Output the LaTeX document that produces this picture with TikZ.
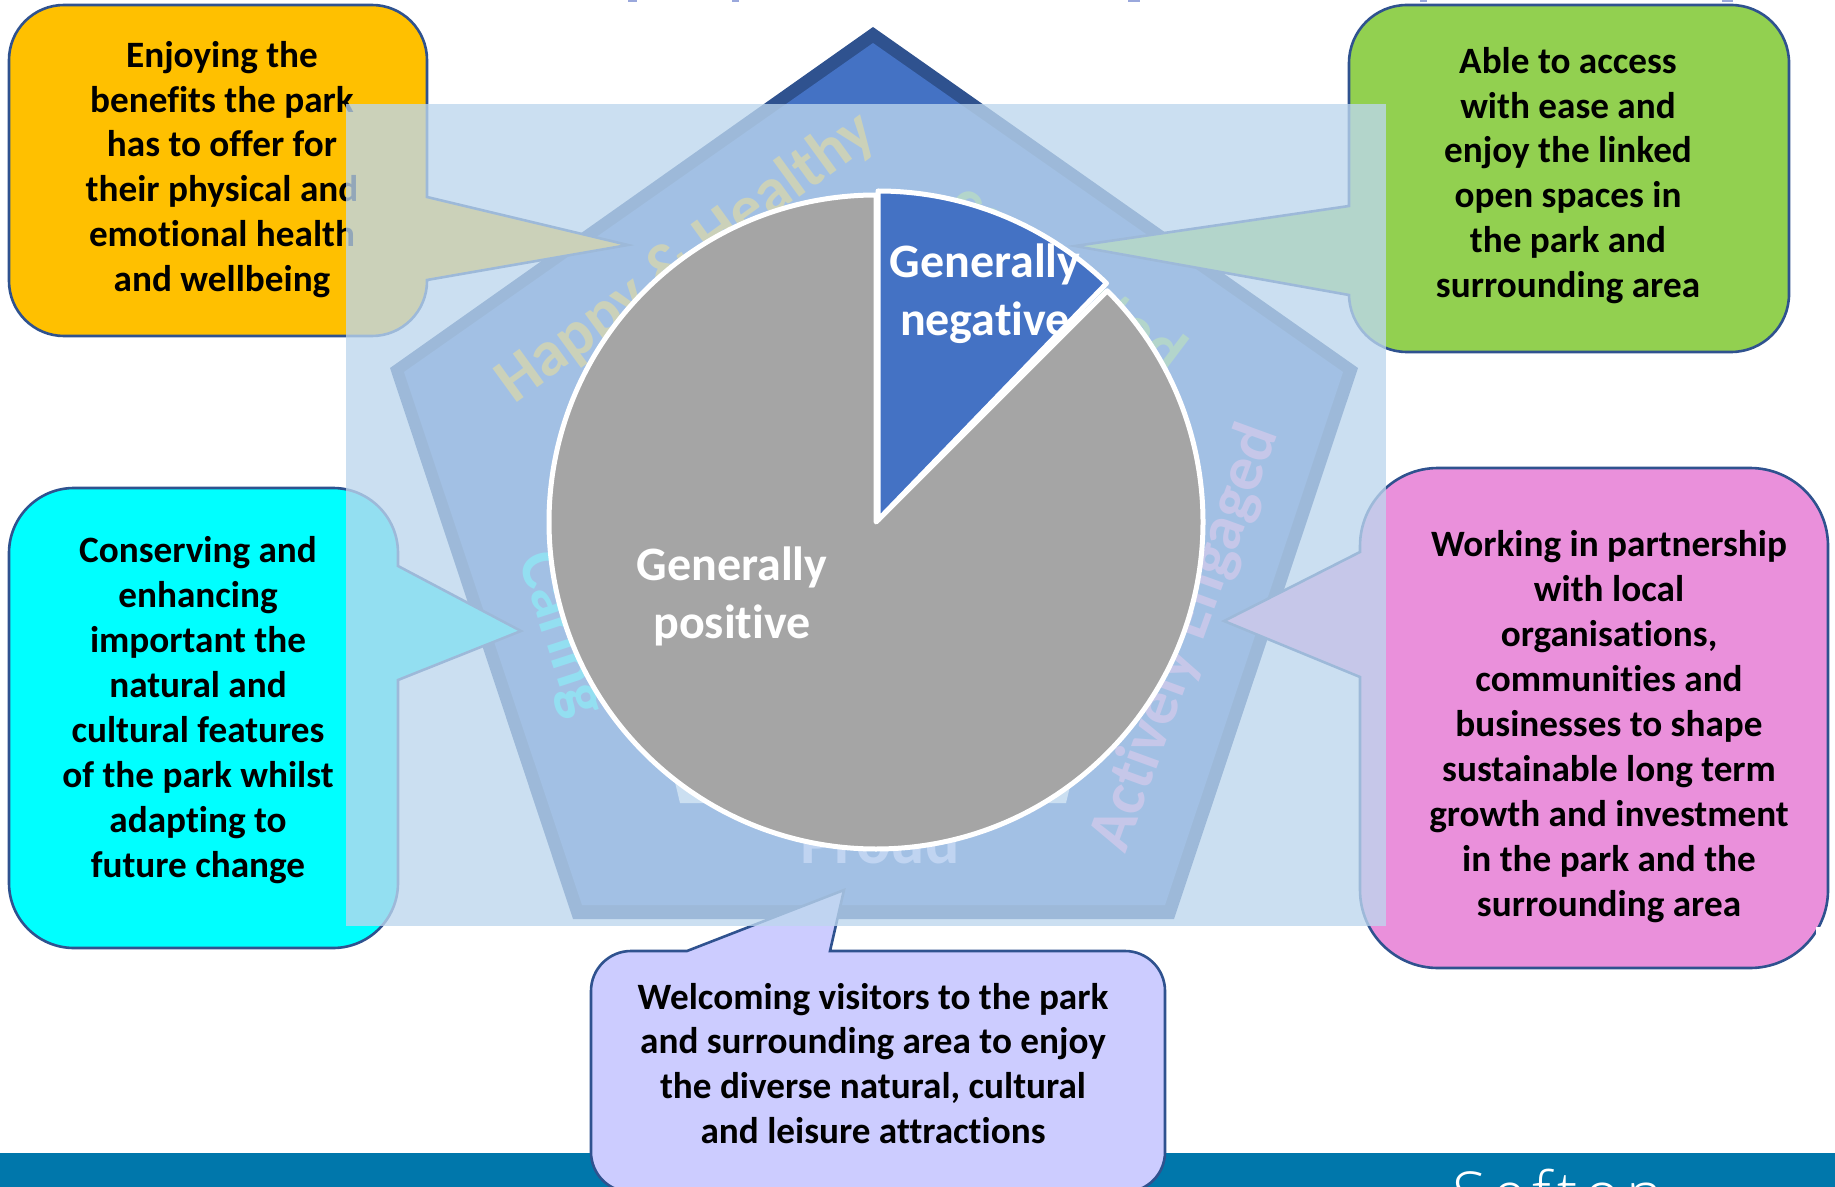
\documentclass[tikz,border=0pt]{standalone}
\usepackage{fontspec}
\setmainfont{Carlito}[Ligatures=NoCommon]
\newfontfamily\bandfont[LetterSpace=10]{Open Sans Light}
\definecolor{penta}{HTML}{4472C4}
\definecolor{pentaedge}{HTML}{2F528F}
\definecolor{veil}{HTML}{BDD7EE}
\definecolor{pieg}{HTML}{A5A5A5}
\definecolor{orangec}{HTML}{FFC000}
\definecolor{greenc}{HTML}{92D050}
\definecolor{cyanc}{HTML}{00FFFF}
\definecolor{pinkc}{HTML}{EA90DB}
\definecolor{violetc}{HTML}{CCCCFF}
\definecolor{bandc}{HTML}{0077AB}
\definecolor{titlec}{HTML}{9AA8DC}
\tikzset{
  callout/.style={draw=pentaedge,line width=1.3pt,line join=miter},
  bodytext/.style={align=center,text=black,inner sep=0pt,font=\fontsize{18.6}{22.45}\selectfont\bfseries},
  pielabel/.style={align=center,text=white,inner sep=0pt,font=\fontsize{24}{29.2}\selectfont\bfseries},
  pentalabel/.style={inner sep=0pt,font=\fontsize{32}{38}\selectfont\bfseries},
  slice/.style={draw=white,line width=2.5pt,line join=round},
  titlebit/.style={fill=titlec,draw=none},
}
\begin{document}
\begin{tikzpicture}[x=0.5pt,y=-0.5pt]
\path[use as bounding box,clip] (0,0) rectangle (1835,1187);
\fill[white] (0,0) rectangle (1835,1187);
% clipped title descenders
\fill[titlebit] (628,0) rectangle (637,2);
\fill[titlebit] (732,0) rectangle (739,2);
\fill[titlebit] (1128,0) rectangle (1140,2);
\fill[titlebit] (1420,0) rectangle (1427,2);
\fill[titlebit] (1722,0) rectangle (1733,2);
% band
\fill[bandc] (0,1153) rectangle (1835,1187);
\node[anchor=base west,inner sep=0pt,text=white,font=\fontsize{31}{35}\selectfont\bandfont] (sefton) at (1452,1216) {Sefton};
% pentagon
\fill[pentaedge] (873,27) -- (1358,368) -- (1174,919) -- (573,919) -- (390,368) -- cycle;
\fill[penta] (873,43) -- (1343,372) -- (1165,905) -- (582,905) -- (404,372) -- cycle;
\fill[white] (665,740) -- (680,803) -- (1066,803) -- (1081,740) -- cycle;
% pentagon labels
\node[pentalabel,text=orangec,rotate=36] (happy) at (686,258) {Happy \& Healthy};
\node[pentalabel,text=greenc,rotate=-37] (conn) at (1069,276) {connected};
\node[pentalabel,text=pinkc,rotate=70] (active) at (1186,638) {Actively Engaged};
\node[pentalabel,text=cyanc,rotate=-72] (caring) at (561,634) {Caring};
\node[pentalabel,text=violetc,anchor=base] (proud) at (880,863) {Proud};
% callouts
\draw[callout,fill=orangec] (64,5) -- (372,5) arc[start angle=-90,end angle=0,radius=55]
  -- (427,197) -- (628,245) -- (427,280) -- (427,281) arc[start angle=0,end angle=90,radius=55]
  -- (64,336) arc[start angle=90,end angle=180,radius=55] -- (9,60) arc[start angle=180,end angle=270,radius=55] -- cycle;
\draw[callout,fill=greenc] (1407,5) -- (1731,5) arc[start angle=-90,end angle=0,radius=58]
  -- (1789,294) arc[start angle=0,end angle=90,radius=58] -- (1407,352)
  arc[start angle=90,end angle=180,radius=58] -- (1349,295) -- (1075,246) -- (1349,206) -- (1349,63)
  arc[start angle=180,end angle=270,radius=58] -- cycle;
\draw[callout,fill=cyanc] (74,488) -- (333,488) arc[start angle=-90,end angle=0,radius=65]
  -- (398,566) -- (521,631) -- (398,680) -- (398,883) arc[start angle=0,end angle=90,radius=65]
  -- (74,948) arc[start angle=90,end angle=180,radius=65] -- (9,553) arc[start angle=180,end angle=270,radius=65] -- cycle;
\draw[callout,fill=pinkc] (1438,468) -- (1750,468) arc[start angle=-90,end angle=0,radius=78]
  -- (1828,890) arc[start angle=0,end angle=90,radius=78] -- (1438,968)
  arc[start angle=90,end angle=180,radius=78] -- (1360,677) -- (1224,621) -- (1360,552) -- (1360,546)
  arc[start angle=180,end angle=270,radius=78] -- cycle;
\fill[white] (1816,927) rectangle (1835,939);
\draw[callout,fill=violetc] (631,951) -- (687,951) -- (844,890) -- (830,951) -- (1125,951)
  arc[start angle=-90,end angle=0,radius=40] -- (1165,1152) arc[start angle=0,end angle=90,radius=40]
  -- (631,1192) arc[start angle=90,end angle=180,radius=40] -- (591,991) arc[start angle=180,end angle=270,radius=40] -- cycle;
% callout texts
\node[bodytext] (torange) at (222,169.5) {Enjoying the\\benefits the park\\has to offer for\\their physical and\\emotional health\\and wellbeing};
\node[bodytext] (tgreen) at (1568,175.5) {Able to access\\with ease and\\enjoy the linked\\open spaces in\\the park and\\surrounding area};
\node[bodytext] (tcyan) at (198,710) {Conserving and\\enhancing\\important the\\natural and\\cultural features\\of the park whilst\\adapting to\\future change};
\node[bodytext] (tpink) at (1609,726.5) {Working in partnership\\with local\\organisations,\\communities and\\businesses to shape\\sustainable long term\\growth and investment\\in the park and the\\surrounding area};
\node[bodytext] (tviolet) at (873,1063.5) {Welcoming visitors to the park\\and surrounding area to enjoy\\the diverse natural, cultural\\and leisure attractions};
% translucent panel
\fill[veil,fill opacity=0.78] (346,104) rectangle (1386,926);
% pie
\draw[slice,fill=pieg] (876,522) -- ++(-45:327) arc[start angle=-45,end angle=270,radius=327] -- cycle;
\draw[slice,fill=penta] (878,520) -- ++(-90:329) arc[start angle=-90,end angle=-46,radius=329] -- cycle;
\node[pielabel] (neg) at (985,294) {Generally\\negative};
\node[pielabel] (pos) at (732,596.5) {Generally\\positive};
\end{tikzpicture}
\end{document}
